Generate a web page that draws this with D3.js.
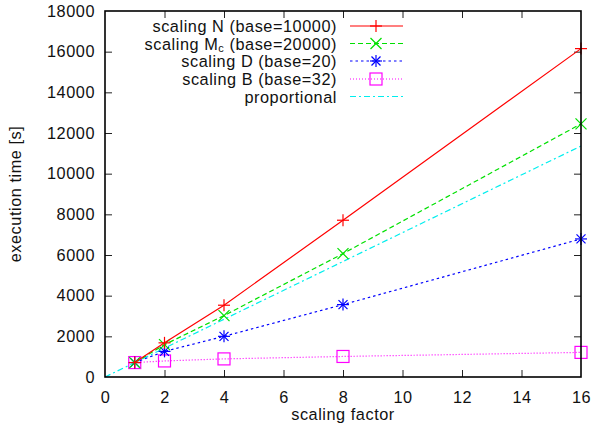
<!DOCTYPE html>
<html>
<head>
<meta charset="utf-8">
<script src="https://cdn.jsdelivr.net/npm/d3@7"></script>
<style>
  html, body { margin: 0; padding: 0; background: #fff; }
  svg { display: block; font-family: "Liberation Sans", Arial, Helvetica, sans-serif; }
  text { letter-spacing: 0.55px; }
</style>
</head>
<body>
<svg id="chart" width="592" height="435"></svg>
<script>
// ---- data ----
const scalingFactors = [1, 2, 4, 8, 16];
const scalingN  = [710, 1680, 3530, 7710, 16150];
const scalingMc = [710, 1590, 3020, 6070, 12450];
const scalingD  = [710, 1260, 2000, 3560, 6790];
const scalingB  = [710, 790, 890, 1010, 1210];
const proportionalX = [0, 16];
const proportionalY = [0, 11360];
const xTicks = [0, 2, 4, 6, 8, 10, 12, 14, 16];
const yTicks = [0, 2000, 4000, 6000, 8000, 10000, 12000, 14000, 16000, 18000];
const seriesNames = ["scaling N (base=10000)", "scaling M|c| (base=20000)", "scaling D (base=20)", "scaling B (base=32)", "proportional"];

const FS = 16.3;
const svg = d3.select("#chart");
const L = 105, R = 581, T = 11, B = 377;
const x = d3.scaleLinear().domain([0, 16]).range([L, R]);
const y = d3.scaleLinear().domain([0, 18000]).range([B, T]);

const styles = [
  { color: "#ff0000", dash: null, marker: "plus" },
  { color: "#00e000", dash: "5,3", marker: "cross" },
  { color: "#0000ff", dash: "2.5,3", marker: "star" },
  { color: "#ff00ff", dash: "1,2", marker: "square" },
  { color: "#00eeee", dash: "6,3,2,3", marker: null }
];
const seriesData = [scalingN, scalingMc, scalingD, scalingB];

// ticks (inward, mirrored)
const tickLen = 7;
const axG = svg.append("g");
const axBottom = d3.axisBottom(x).tickValues(xTicks).tickSize(-tickLen).tickPadding(tickLen + 7).tickFormat(d3.format("d"));
const axLeft = d3.axisLeft(y).tickValues(yTicks).tickSize(-tickLen).tickPadding(tickLen + 3).tickFormat(d3.format("d"));
const axTop = d3.axisTop(x).tickValues(xTicks).tickSize(-tickLen).tickFormat("");
const axRight = d3.axisRight(y).tickValues(yTicks).tickSize(-tickLen).tickFormat("");

const gB = axG.append("g").attr("transform", `translate(0,${B})`).call(axBottom);
const gL = axG.append("g").attr("transform", `translate(${L},0)`).call(axLeft);
const gT = axG.append("g").attr("transform", `translate(0,${T})`).call(axTop);
const gR = axG.append("g").attr("transform", `translate(${R},0)`).call(axRight);
[gB, gL, gT, gR].forEach(g => {
  g.select(".domain").remove();
  g.selectAll(".tick line").attr("stroke", "#222").attr("stroke-width", 1);
  g.selectAll(".tick text").attr("font-size", FS).attr("fill", "#111")
    .attr("font-family", "'Liberation Sans', Arial, sans-serif");
});
gL.selectAll(".tick").filter(d => d === 18000 || d === 0).select("line").remove();
gR.selectAll(".tick").filter(d => d === 18000 || d === 0).select("line").remove();
gB.selectAll(".tick").filter(d => d === 0 || d === 16).select("line").remove();
gT.selectAll(".tick").filter(d => d === 0 || d === 16).select("line").remove();

// lines
const lineGen = d3.line().x(d => x(d[0])).y(d => y(d[1]));
const plotG = svg.append("g");

// proportional
plotG.append("path")
  .datum(proportionalX.map((v, i) => [v, proportionalY[i]]))
  .attr("d", lineGen).attr("fill", "none")
  .attr("stroke", styles[4].color).attr("stroke-width", 1.2)
  .attr("stroke-dasharray", styles[4].dash);

function drawMarker(g, type, cx, cy, color) {
  const s = 6;
  const m = g.append("g").attr("stroke", color).attr("stroke-width", 1.2).attr("fill", "none");
  if (type === "plus" || type === "star") {
    m.append("line").attr("x1", cx - s).attr("x2", cx + s).attr("y1", cy).attr("y2", cy);
    m.append("line").attr("x1", cx).attr("x2", cx).attr("y1", cy - s).attr("y2", cy + s);
  }
  if (type === "cross" || type === "star") {
    const k = type === "star" ? 4.5 : 5.5;
    m.append("line").attr("x1", cx - k).attr("x2", cx + k).attr("y1", cy - k).attr("y2", cy + k);
    m.append("line").attr("x1", cx - k).attr("x2", cx + k).attr("y1", cy + k).attr("y2", cy - k);
  }
  if (type === "square") {
    m.append("rect").attr("x", cx - s).attr("y", cy - s).attr("width", 2 * s).attr("height", 2 * s);
  }
}

// draw series in reverse order so N is on top
for (let i = 3; i >= 0; i--) {
  const pts = scalingFactors.map((f, j) => [f, seriesData[i][j]]);
  plotG.append("path").datum(pts).attr("d", lineGen).attr("fill", "none")
    .attr("stroke", styles[i].color).attr("stroke-width", 1.2)
    .attr("stroke-dasharray", styles[i].dash);
  pts.forEach(p => drawMarker(plotG, styles[i].marker, x(p[0]), y(p[1]), styles[i].color));
}

// border
svg.append("rect").attr("x", L).attr("y", T).attr("width", R - L).attr("height", B - T)
  .attr("fill", "none").attr("stroke", "#000").attr("stroke-width", 1.6);

// legend
const legG = svg.append("g");
const rowY = [26, 43.5, 61, 79, 96.5];
seriesNames.forEach((name, i) => {
  const ry = rowY[i];
  const t = legG.append("text").attr("x", 337).attr("y", ry + 6)
    .attr("text-anchor", "end").attr("font-size", FS).attr("fill", "#111");
  if (name.includes("|c|")) {
    const parts = name.split("|c|");
    t.append("tspan").text(parts[0]);
    t.append("tspan").attr("font-size", 11).attr("dy", 2).text("c");
    t.append("tspan").attr("dy", -2).text(parts[1]);
  } else {
    t.text(name);
  }
  legG.append("line").attr("x1", 350).attr("x2", 403).attr("y1", ry).attr("y2", ry)
    .attr("stroke", styles[i].color).attr("stroke-width", 1.2)
    .attr("stroke-dasharray", styles[i].dash);
  if (styles[i].marker) drawMarker(legG, styles[i].marker, 376, ry, styles[i].color);
});

// axis titles
svg.append("text").attr("x", 343).attr("y", 420).attr("text-anchor", "middle")
  .attr("font-size", FS).attr("fill", "#111").text("scaling factor");
svg.append("text").attr("transform", "translate(21,194) rotate(-90)").attr("text-anchor", "middle")
  .attr("font-size", FS).attr("fill", "#111").text("execution time [s]");
</script>
</body>
</html>
